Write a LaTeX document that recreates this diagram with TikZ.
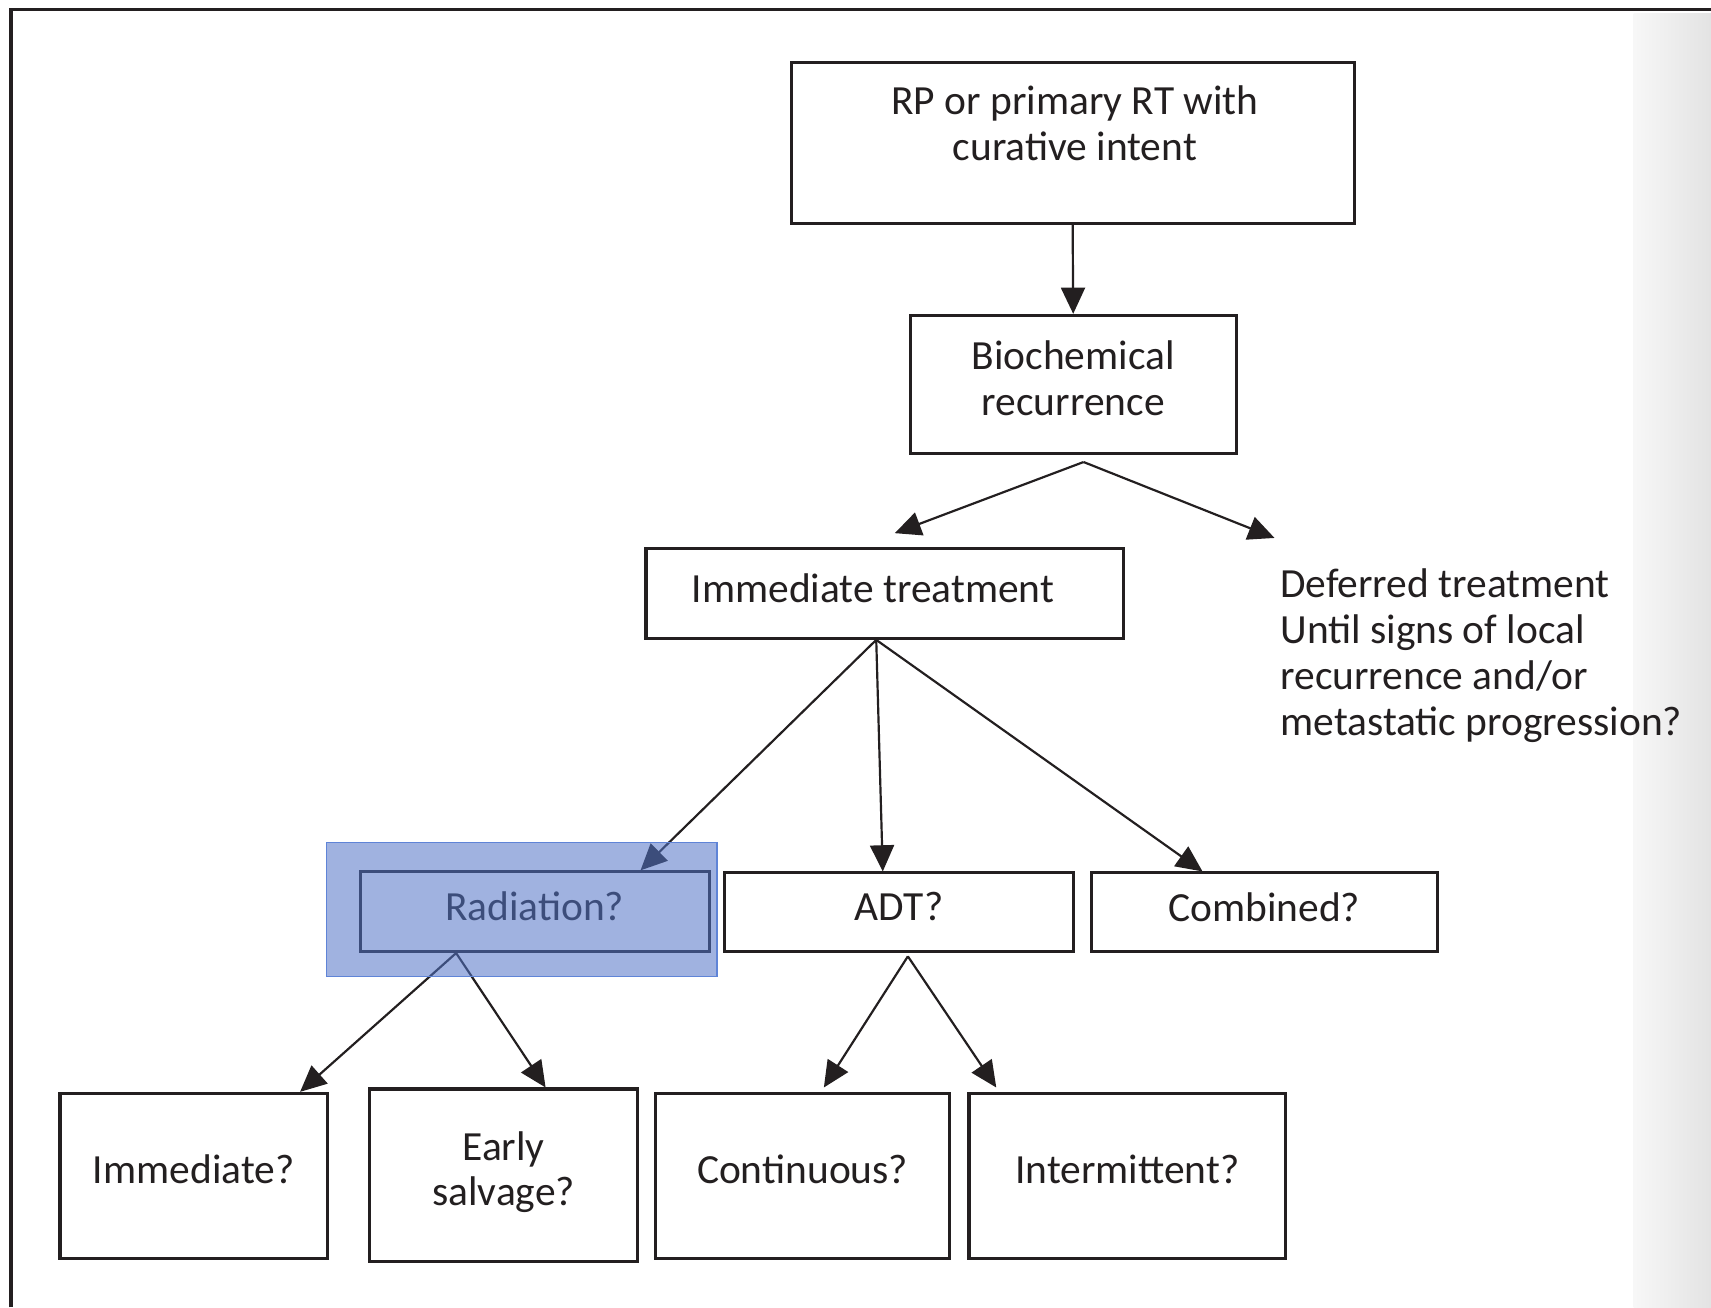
\documentclass[tikz,border=0pt]{standalone}
\usepackage{fontspec}
\setmainfont{Carlito}
\usetikzlibrary{arrows.meta,calc}
\definecolor{ink}{HTML}{231F20}
\definecolor{hlblue}{RGB}{82,115,198}
\definecolor{hledge}{RGB}{95,132,215}
\begin{document}
\begin{tikzpicture}[x=0.5pt,y=-0.5pt,
  box/.style={draw=ink,line width=1.4pt,inner sep=0pt,align=center,text=ink,font=\fontsize{19}{21}\selectfont},
  arr/.style={draw=ink,line width=1pt,-{Triangle[length=12pt,width=11pt]}},
  txt/.style={inner sep=0pt,text=ink,font=\fontsize{19}{21}\selectfont}]
\useasboundingbox (0,0) rectangle (1568,1198);
\shade[left color=white!97!black,right color=black!11] (1497,12) rectangle (1568,1198);
\draw[ink,line width=1.5pt] (10,1198) -- (10,9) -- (1568,9);

\node[box,minimum width=258pt,minimum height=74pt] (top) at (983,131) {};
\node[txt,align=center] (toptext) at (985,113) {RP or primary RT with\\curative intent};
\node[box,minimum width=149.5pt,minimum height=63.5pt,text depth=6pt] (bio) at (983.5,352.5) {Biochemical\\recurrence};
\node[box,minimum width=219pt,minimum height=41pt] (imm) at (811,544) {};
\node[txt] (immtext) at (800,539) {Immediate treatment};
\node[txt,align=left,anchor=north west] (def) at (1173,521) {Deferred treatment\\Until signs of local\\recurrence and/or\\metastatic progression?};

\node[box,minimum width=160pt,minimum height=36.5pt,text depth=5pt] (rad) at (490,835.5) {Radiation?};
\node[box,minimum width=160pt,minimum height=36pt,text depth=5pt] (adt) at (824,836) {ADT?};
\node[box,minimum width=158.5pt,minimum height=36pt,text depth=5pt] (comb) at (1158.5,836) {Combined?};

\node[box,minimum width=122.5pt,minimum height=75.5pt,text depth=6pt] (immq) at (177.5,1077.5) {Immediate?};
\node[box,minimum width=122.5pt,minimum height=79pt,text depth=6pt] (early) at (461.5,1077) {Early\\salvage?};
\node[box,minimum width=134.5pt,minimum height=75.5pt,text depth=6pt] (cont) at (735.5,1077.5) {Continuous?};
\node[box,minimum width=145pt,minimum height=75.5pt,text depth=6pt] (inter) at (1033,1077.5) {Intermittent?};

\coordinate (bsplit) at ($(bio.south)+(9.5,6)$);
\coordinate (immtip) at ($(imm.north)+(9,-13)$);
\coordinate (deftip) at ($(def.north west)+(-5,-28)$);
\coordinate (immsplit) at ($(imm.south)+(-8,0)$);
\coordinate (radsplit) at ($(rad.south)+(-72,0)$);
\coordinate (adtsplit) at ($(adt.south)+(8,3)$);

\draw[arr] (top.south) -- (bio.north);
\draw[arr] (bsplit) -- (immtip);
\draw[arr] (bsplit) -- (deftip);
\draw[arr] (immsplit) -- ($(rad.north)+(97,0)$);
\draw[arr] (immsplit) -- ($(adt.north)+(-15,0)$);
\draw[arr] (immsplit) -- ($(comb.north)+(-56.5,0)$);
\draw[arr] (radsplit) -- ($(immq.north)+(97.5,0)$);
\draw[arr] (radsplit) -- ($(early.north)+(38.5,0)$);
\draw[arr] (adtsplit) -- ($(cont.north)+(19.5,-4)$);
\draw[arr] (adtsplit) -- ($(inter.north)+(-120,-4)$);

\node[fill=hlblue,fill opacity=0.55,draw=hledge,draw opacity=1,line width=0.6pt,minimum width=179pt,minimum height=61.5pt,inner sep=0pt] (hl) at (478,833.5) {};
\end{tikzpicture}
\end{document}
